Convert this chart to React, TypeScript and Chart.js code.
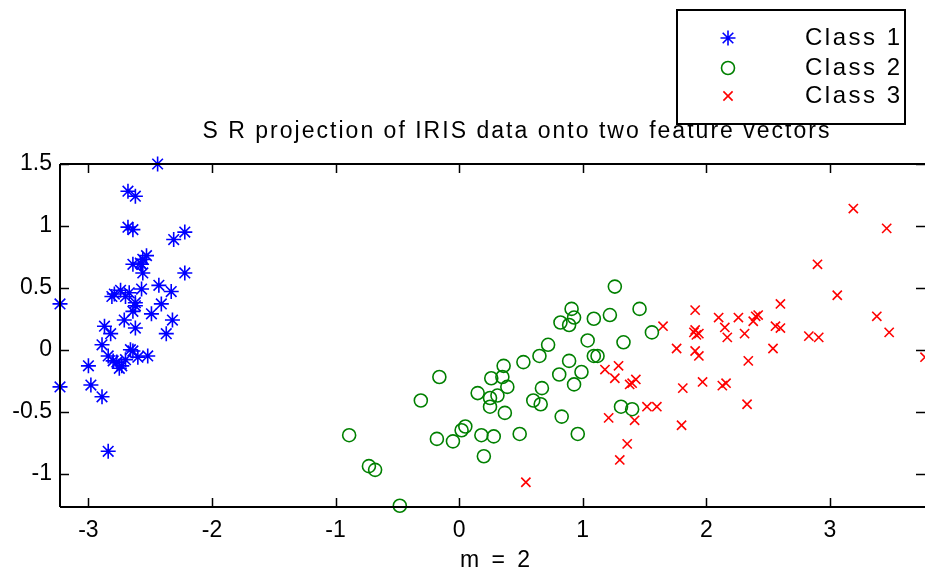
import React, { useEffect, useRef } from "react";
import { Chart, registerables } from "chart.js";

Chart.register(...registerables);

const TITLE = "S R projection of IRIS data onto two feature vectors";
const X_LABEL = "m = 2";
const CLASS_NAMES = ["Class 1", "Class 2", "Class 3"];
const X_TICKS = [-3, -2, -1, 0, 1, 2, 3];
const Y_TICKS = [-1, -0.5, 0, 0.5, 1, 1.5];
const X_RANGE = [-3.23, 3.77];
const Y_RANGE = [-1.27, 1.5];

const class1X = [-2.44, -2.68, -2.62, -2.68, -2.64, -2.22, -2.31, -2.53, -2.56, -2.58, -2.64, -2.57, -2.56, -2.22, -2.74, -2.43, -2.33, -2.57, -2.81, -2.79, -2.67, -2.70, -2.62, -2.41, -3.23, -2.62, -2.64, -2.49, -2.71, -2.32, -2.62, -2.87, -2.82, -2.37, -2.89, -2.66, -2.64, -2.84, -2.60, -2.52, -2.77, -2.73, -2.75, -2.80, -2.70, -3.00, -3.23, -2.98, -2.89, -2.84];
const class1Y = [1.50, 1.28, 1.24, 0.99, 0.97, 0.95, 0.89, 0.76, 0.73, 0.70, 0.69, 0.69, 0.62, 0.62, 0.48, 0.52, 0.47, 0.49, 0.43, 0.45, 0.46, 0.43, 0.38, 0.37, 0.37, 0.355, 0.31, 0.29, 0.24, 0.24, 0.175, 0.19, 0.13, 0.13, 0.04, 0.00, -0.01, -0.05, -0.06, -0.05, -0.10, -0.13, -0.15, -0.09, -0.08, -0.13, -0.30, -0.285, -0.38, -0.82];

const class2X = [-0.89, -0.73, -0.68, -0.48, -0.31, -0.16, -0.18, -0.05, 0.02, 0.05, 0.15, 0.25, 0.25, 0.26, 0.18, 0.20, 0.28, 1.26, 1.46, 1.22, 1.56, 0.91, 0.93, 0.82, 0.89, 1.09, 1.33, 1.04, 0.72, 0.65, 0.52, 0.89, 1.09, 1.12, 0.36, 0.81, 0.99, 0.93, 0.35, 0.39, 0.31, 0.67, 0.60, 0.66, 0.37, 1.31, 1.40, 0.83, 0.49, 0.96];
const class2Y = [-0.69, -0.94, -0.97, -1.26, -0.41, -0.22, -0.72, -0.74, -0.65, -0.62, -0.35, -0.46, -0.39, -0.23, -0.69, -0.86, -0.70, 0.51, 0.33, 0.28, 0.14, 0.33, 0.26, 0.22, 0.20, 0.25, 0.06, 0.075, 0.04, -0.05, -0.10, -0.09, -0.05, -0.05, -0.13, -0.20, -0.18, -0.28, -0.22, -0.30, -0.37, -0.31, -0.41, -0.44, -0.51, -0.46, -0.48, -0.54, -0.68, -0.68];

const class3X = [1.65, 1.18, 1.29, 1.26, 1.38, 1.40, 1.43, 1.52, 1.60, 1.21, 1.42, 1.36, 1.30, 1.76, 1.91, 1.91, 1.92, 1.94, 1.90, 1.91, 1.94, 1.81, 1.97, 1.80, 2.13, 2.16, 2.10, 2.15, 2.17, 2.26, 2.31, 2.38, 2.40, 2.42, 2.34, 2.33, 3.19, 3.46, 2.90, 3.06, 2.60, 2.56, 2.60, 2.54, 2.83, 2.91, 3.38, 3.48, 3.77, 0.54];
const class3Y = [0.19, -0.16, -0.13, -0.23, -0.28, -0.27, -0.24, -0.46, -0.46, -0.55, -0.57, -0.76, -0.89, 0.01, 0.32, 0.16, 0.12, 0.13, 0.14, -0.01, -0.05, -0.31, -0.26, -0.61, -0.29, -0.27, 0.26, 0.18, 0.10, 0.26, 0.13, 0.23, 0.27, 0.28, -0.09, -0.44, 1.14, 0.98, 0.69, 0.44, 0.37, 0.19, 0.175, 0.01, 0.11, 0.10, 0.27, 0.14, -0.06, -1.07];

const COLORS = ["#0000ff", "#008000", "#ff0000"];
const STYLES = ["star", "circle", "crossRot"];
const RADII = [7.5, 6.5, 6.5];
const FONT = "'Liberation Sans', Arial, sans-serif";

function pts(xs: number[], ys: number[]) {
  return xs.map((x, i) => ({ x, y: ys[i] }));
}

function drawSpaced(ctx: CanvasRenderingContext2D, text: string, x: number, y: number, width: number, align: "left" | "center") {
  const chars = Array.from(text);
  const widths = chars.map((c) => ctx.measureText(c).width);
  const base = widths.reduce((a, b) => a + b, 0);
  const sp = chars.length > 1 ? (width - base) / (chars.length - 1) : 0;
  let cx = align === "center" ? x - width / 2 : x;
  ctx.textAlign = "left";
  chars.forEach((c, i) => {
    ctx.fillText(c, cx, y);
    cx += widths[i] + sp;
  });
}

function drawMarker(ctx: CanvasRenderingContext2D, style: string, x: number, y: number, r: number) {
  ctx.beginPath();
  if (style === "circle") {
    ctx.arc(x, y, r, 0, Math.PI * 2);
  } else if (style === "crossRot") {
    const o = Math.cos(Math.PI / 4) * r;
    ctx.moveTo(x - o, y - o); ctx.lineTo(x + o, y + o);
    ctx.moveTo(x - o, y + o); ctx.lineTo(x + o, y - o);
  } else {
    const o = Math.cos(Math.PI / 4) * r;
    ctx.moveTo(x - r, y); ctx.lineTo(x + r, y);
    ctx.moveTo(x, y - r); ctx.lineTo(x, y + r);
    ctx.moveTo(x - o, y - o); ctx.lineTo(x + o, y + o);
    ctx.moveTo(x - o, y + o); ctx.lineTo(x + o, y - o);
  }
  ctx.stroke();
}

const framePlugin = {
  id: "matlabFrame",
  afterDraw(chart: any) {
    const ctx: CanvasRenderingContext2D = chart.ctx;
    const { left, right, top, bottom } = chart.chartArea;
    const xs = chart.scales.x;
    const ys = chart.scales.y;
    ctx.save();
    ctx.strokeStyle = "#000";
    ctx.lineWidth = 2;
    ctx.beginPath();
    ctx.moveTo(left, top); ctx.lineTo(right, top);
    ctx.moveTo(left, top); ctx.lineTo(left, bottom);
    ctx.moveTo(left, bottom); ctx.lineTo(right, bottom);
    ctx.stroke();
    ctx.lineWidth = 1.5;
    ctx.beginPath();
    const tl = 9;
    X_TICKS.forEach((v) => {
      const px = Math.round(xs.getPixelForValue(v)) + 0.5;
      ctx.moveTo(px, bottom); ctx.lineTo(px, bottom - tl);
      ctx.moveTo(px, top); ctx.lineTo(px, top + tl);
    });
    Y_TICKS.forEach((v) => {
      const py = Math.round(ys.getPixelForValue(v)) + 0.5;
      ctx.moveTo(left, py); ctx.lineTo(left + tl, py);
      ctx.moveTo(right, py); ctx.lineTo(right - tl, py);
    });
    ctx.stroke();

    ctx.fillStyle = "#000";
    ctx.textBaseline = "middle";
    ctx.font = `23px ${FONT}`;
    drawSpaced(ctx, TITLE, 516, 132, 627, "center");
    drawSpaced(ctx, X_LABEL, 495, 561, 70, "center");

    // legend
    ctx.fillStyle = "#fff";
    ctx.fillRect(677, 10, 228, 114);
    ctx.strokeStyle = "#000";
    ctx.lineWidth = 2;
    ctx.strokeRect(677, 10, 228, 114);
    const rowsY = [38, 68, 96];
    ctx.font = `24px ${FONT}`;
    CLASS_NAMES.forEach((name, i) => {
      ctx.strokeStyle = COLORS[i];
      ctx.lineWidth = 1.6;
      drawMarker(ctx, STYLES[i], 728, rowsY[i], RADII[i]);
      ctx.fillStyle = "#000";
      drawSpaced(ctx, name, 805, rowsY[i], 95, "left");
    });
    ctx.restore();
  },
};

export default function App() {
  const ref = useRef<HTMLCanvasElement | null>(null);
  useEffect(() => {
    if (!ref.current) return;
    const data = [pts(class1X, class1Y), pts(class2X, class2Y), pts(class3X, class3Y)];
    const chart = new Chart(ref.current, {
      type: "scatter",
      data: {
        datasets: data.map((d, i) => ({
          label: CLASS_NAMES[i],
          data: d,
          pointStyle: STYLES[i] as any,
          pointRadius: RADII[i],
          pointHoverRadius: RADII[i],
          borderColor: COLORS[i],
          backgroundColor: "rgba(0,0,0,0)",
          pointBorderWidth: 1.6,
          borderWidth: 1.6,
          clip: false as any,
        })),
      },
      options: {
        animation: false,
        responsive: false,
        events: [],
        layout: { autoPadding: false, padding: { top: 164, left: 0, right: 0, bottom: 0 } },
        plugins: { legend: { display: false }, title: { display: false }, tooltip: { enabled: false } },
        scales: {
          x: {
            type: "linear",
            min: X_RANGE[0],
            max: X_RANGE[1],
            grid: { display: false, drawTicks: false },
            border: { display: false },
            ticks: { color: "#000", font: { family: FONT, size: 23 }, padding: 10, callback: (v: any) => String(v) },
            afterBuildTicks: (s: any) => { s.ticks = X_TICKS.map((v) => ({ value: v })); },
            afterFit: (s: any) => { s.height = 71; },
          },
          y: {
            type: "linear",
            min: Y_RANGE[0],
            max: Y_RANGE[1],
            grid: { display: false, drawTicks: false },
            border: { display: false },
            ticks: { color: "#000", font: { family: FONT, size: 23 }, padding: 8, callback: (v: any) => String(v) },
            afterBuildTicks: (s: any) => { s.ticks = Y_TICKS.map((v) => ({ value: v })); },
            afterFit: (s: any) => { s.width = 60; },
          },
        },
      },
      plugins: [framePlugin],
    });
    return () => chart.destroy();
  }, []);
  return (
    <div style={{ position: "fixed", left: 0, top: 0, width: 925, height: 578, background: "#fff" }}>
      <canvas ref={ref} width={925} height={578} style={{ width: 925, height: 578 }} />
    </div>
  );
}
